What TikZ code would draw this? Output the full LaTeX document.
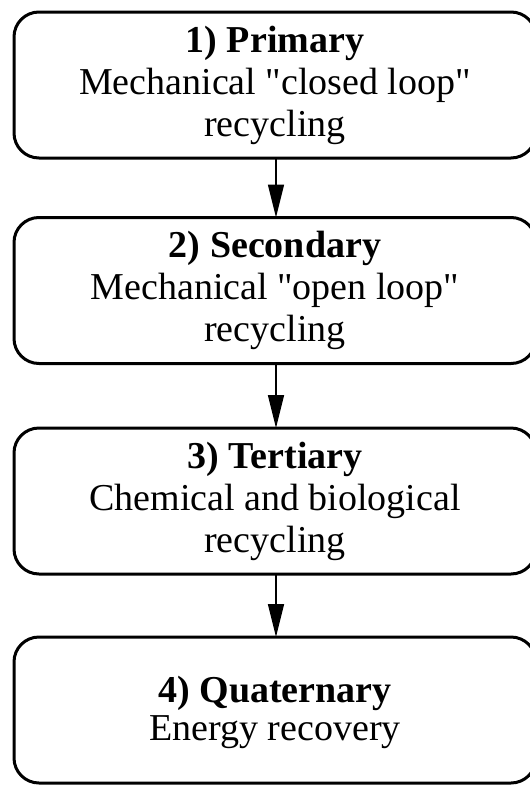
\documentclass[tikz,border=0pt]{standalone}
\usepackage{fontspec}
\setmainfont{Liberation Serif}
\usetikzlibrary{arrows.meta}

\tikzset{
  stage/.style={draw=black, line width=3pt, rounded corners=25pt,
    minimum width=522pt, minimum height=146pt, inner sep=0pt, outer sep=0pt,
    align=center, font=\fontsize{38}{42}\selectfont},
  flow/.style={line width=1.5pt, -{Triangle[length=33pt,width=16pt]}}
}

\begin{document}
\begin{tikzpicture}[x=1pt,y=-1pt]
  \useasboundingbox (0,0) rectangle (530,785);
  \begin{scope}
    \clip (0,0) rectangle (530,785);
    \node[stage] (primary) at (275,85)
      {\textbf{1) Primary}\\Mechanical \textquotedbl closed loop\textquotedbl\\recycling};
    \node[stage] (secondary) at (275,290.5)
      {\textbf{2) Secondary}\\Mechanical \textquotedbl open loop\textquotedbl\\recycling};
    \node[stage] (tertiary) at (275,501)
      {\textbf{3) Tertiary}\\Chemical and biological\\recycling};
    \node[stage, font=\fontsize{38}{38}\selectfont] (quaternary) at (275,710)
      {\textbf{4) Quaternary}\\Energy recovery\\[-34pt]\mbox{}};
  \end{scope}
  \draw[flow] ([xshift=1pt]primary.south) -- ([xshift=1pt]secondary.north);
  \draw[flow] ([xshift=1pt]secondary.south) -- ([xshift=1pt]tertiary.north);
  \draw[flow] ([xshift=1pt]tertiary.south) -- ([xshift=1pt]quaternary.north);
\end{tikzpicture}
\end{document}
